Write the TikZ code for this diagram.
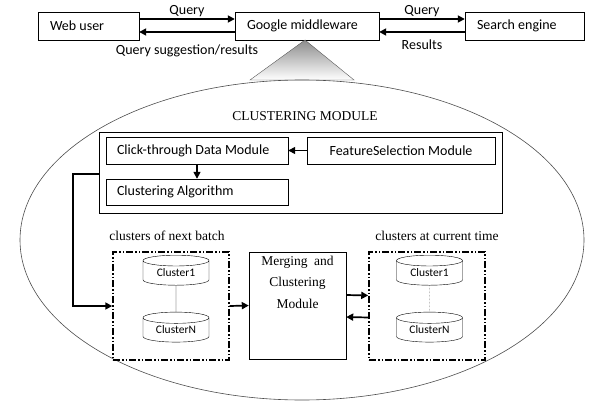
\documentclass[tikz,border=0pt]{standalone}
\usepackage{fontspec}
\setmainfont{Liberation Serif}
\newfontfamily\boxfont{Carlito}
\usetikzlibrary{positioning,shapes.geometric,arrows.meta}

\begin{document}
\begin{tikzpicture}[x=1pt,y=-1pt,
  topbox/.style={draw, rectangle, minimum height=28pt, inner sep=0pt},
  modbox/.style={draw, rectangle, inner sep=0pt, minimum height=27pt},
  batchbox/.style={draw, line width=1.5pt, minimum width=116pt, minimum height=108pt,
    dash pattern=on 7pt off 2pt on 1.5pt off 2pt on 1.5pt off 2pt},
  db/.style={draw, cylinder, shape border rotate=90, aspect=0.28, minimum width=66pt,
    minimum height=30pt, inner sep=0pt, font=\boxfont\fontsize{11.5}{13}\selectfont},
  flow/.style={line width=1.7pt, -{Triangle[length=7pt,width=7pt]}},
  txt/.style={font=\boxfont\fontsize{14}{16}\selectfont, inner sep=1pt},
  sertxt/.style={font=\fontsize{13.5}{15}\selectfont, inner sep=1pt},
]
\useasboundingbox (0,0) rectangle (597,409);

% top row
\node[topbox, minimum width=101pt] (web) at (88.5,26) {};
\node[txt, anchor=west] at ([xshift=11pt]web.west) {Web user};
\node[topbox, minimum width=144pt] (google) at (307,26) {};
\node[txt, anchor=west] at ([xshift=11pt]google.west) {Google middleware};
\node[topbox, minimum width=119pt] (search) at (524.5,26) {};
\node[txt, anchor=west] at ([xshift=11pt]search.west) {Search engine};

\draw[flow] ([yshift=7pt]web.east) -- node[txt, above=0pt] (q1) {Query} ([yshift=7pt]google.west);
\draw[flow] ([yshift=-6pt]google.west) -- node[txt, below=11pt] (qs) {Query suggestion/results} ([yshift=-6pt]web.east);
\draw[flow] ([yshift=7pt]google.east) -- node[txt, above=0pt] (q2) {Query} ([yshift=7pt]search.west);
\draw[flow] ([yshift=-6pt]search.west) -- node[txt, below=6pt] (res) {Results} ([yshift=-6pt]google.east);

% zoom into the clustering module
\draw[gray!70!black, top color=gray!90, bottom color=white] (305,40) -- (250,80) -- (354,80) -- cycle;
\draw[gray!60!black, line width=0.6pt] (302,240) ellipse [x radius=282, y radius=160];

\node[sertxt] (title) at (305,116) {CLUSTERING MODULE};
\node[draw, minimum width=403pt, minimum height=81pt, inner sep=0pt] (outer) at (300.5,172.5) {};
\node[modbox, minimum width=182pt] (click) at (197,150.5) {};
\node[txt, anchor=west] at ([xshift=10pt]click.west) {Click-through Data Module};
\node[modbox, minimum width=188pt] (feat) at (401,150.5) {};
\node[txt] at (feat.center) {FeatureSelection Module};
\node[modbox, minimum width=182pt, minimum height=26pt] (algo) at (197,192) {};
\node[txt, anchor=west] at ([xshift=10pt]algo.west) {Clustering Algorithm};

\draw[flow, line width=1.5pt] (feat.west) -- (click.east);
\draw[flow, line width=1.5pt] (click.south) -- (algo.north);

% batches
\node[sertxt] (nextlbl) at (167,236) {clusters of next batch};
\node[batchbox] (next) at (171,306) {};
\node[db] (n1) at (176,273) {Cluster1};
\node[db] (nN) at (176,330) {ClusterN};
\draw (n1.south) -- (nN.north);

\node[draw, minimum width=97pt, minimum height=107pt, inner sep=0pt] (merge) at (297.5,305.5) {};
\node[sertxt, align=center, font=\fontsize{13.5}{21.5}\selectfont, anchor=north] at ([yshift=-3pt]merge.north)
  {Merging\ \ and\\ Clustering\\ Module};

\node[sertxt] (curlbl) at (437,236) {clusters at current time};
\node[batchbox] (cur) at (427,306) {};
\node[db] (c1) at (429.5,273) {Cluster1};
\node[db] (cN) at (429.5,330) {ClusterN};
\draw[densely dotted] (c1.south) -- (cN.north);

\draw[flow] ([yshift=-1.5pt]outer.west) -- ++(-26,0) |- (next.west);
\draw[flow] (next.east) -- (merge.west);
\draw[flow] ([yshift=10.5pt]merge.east) -- ([yshift=10.5pt]cur.west);
\draw[flow] ([yshift=-11.5pt]cur.west) -- ([yshift=-11.5pt]merge.east);
\end{tikzpicture}
\end{document}
